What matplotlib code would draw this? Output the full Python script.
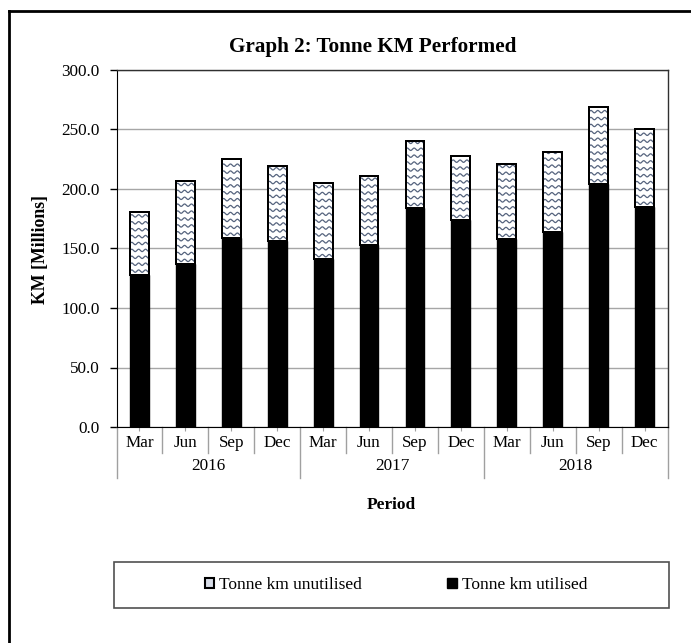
import numpy as np
import matplotlib
matplotlib.use("Agg")
import matplotlib.pyplot as plt
from matplotlib.patches import Rectangle
from matplotlib.lines import Line2D
import matplotlib.transforms as mtransforms

# ---- data ----
years = ["2016", "2017", "2018"]
months = ["Mar", "Jun", "Sep", "Dec"]
utilised = [128, 137, 159, 156, 141, 153, 184, 174, 158, 164, 204, 185]
totals = [181, 207, 225, 219, 205, 211, 240, 228, 221, 231, 269, 250]
unutilised = [t - u for t, u in zip(totals, utilised)]
yticks = [0, 50, 100, 150, 200, 250, 300]

plt.rcParams['font.family'] = ['Liberation Serif', 'DejaVu Serif']

W, H = 691, 643
fig = plt.figure(figsize=(W / 100, H / 100), dpi=100)
ax = fig.add_axes([116.5 / W, 1 - 427 / H, (667.5 - 116.5) / W, (427 - 70) / H])

n = len(utilised)
x = np.arange(n)
bw = 0.41
b1 = ax.bar(x, utilised, width=bw, color='black', edgecolor='black', linewidth=1, zorder=3)
b2 = ax.bar(x, unutilised, width=bw, bottom=utilised, color='white', edgecolor='black',
            linewidth=1.4, zorder=3)

# wavy hatch, clipped to each unutilised bar
wave_col = '#56647e'
for rect in b2:
    x0, y0 = rect.get_x(), rect.get_y()
    w, h = rect.get_width(), rect.get_height()
    xs = np.linspace(x0, x0 + w, 200)
    period = 0.15
    for yy in np.arange(y0 + 3.0, y0 + h, 5.8):
        ys = yy + 1.0 * np.sin(2 * np.pi * (xs - x0) / period)
        ln, = ax.plot(xs, ys, color=wave_col, lw=0.9, zorder=4)
        ln.set_clip_path(rect)
for rect in b2:
    ax.add_patch(Rectangle((rect.get_x(), rect.get_y()), rect.get_width(), rect.get_height(),
                           fill=False, edgecolor='black', linewidth=1.4, zorder=5))

fs = 12.3
ax.set_xlim(-0.5, n - 0.5)
ax.set_ylim(0, 300)
ax.set_yticks(yticks)
ax.set_yticklabels([f"{v:.1f}" for v in yticks], fontsize=fs)
ax.tick_params(axis='y', direction='out', length=5, width=1, pad=7, colors='black')
ax.yaxis.grid(True, color='#a6a6a6', lw=1, zorder=0)
ax.set_axisbelow(True)

ax.set_xticks(x)
ax.set_xticklabels(months * len(years), fontsize=fs)
ax.tick_params(axis='x', direction='out', length=3, width=0.8, pad=3)
for lbl in ax.get_xticklabels():
    lbl.set_color('black')
ax.xaxis.set_tick_params(color='#a0a0a0')

for s in ['top', 'right']:
    ax.spines[s].set_color('#303030')
    ax.spines[s].set_linewidth(1)
ax.spines['left'].set_color('black')
ax.spines['bottom'].set_color('black')

# category separators
trans = mtransforms.blended_transform_factory(ax.transData, ax.transAxes)
axh = 427 - 70
for i in range(n + 1):
    xb = i - 0.5
    if i % 4 == 0:
        yb = -(478 - 427) / axh
    else:
        yb = -(453 - 427) / axh
    ax.plot([xb, xb], [0, yb], transform=trans, color='#a0a0a0', lw=1, clip_on=False)
for k, yr in enumerate(years):
    ax.text(4 * k + 1.5, -(466 - 427) / axh, yr, transform=trans, ha='center', va='center',
            fontsize=fs)

fig.text(373 / W, 1 - 47 / H, "Graph 2: Tonne KM Performed", ha='center',
         va='center', fontsize=15.2, fontweight='bold')
fig.text(40 / W, 1 - 249 / H, "KM [Millions]", ha='center', va='center', rotation=90,
         fontsize=12.8, fontweight='bold')
fig.text(391 / W, 1 - 505 / H, "Period", ha='center', va='center', fontsize=12.5,
         fontweight='bold')

# legend frame and legend
fig.patches.append(Rectangle((114 / W, 1 - 608 / H), (669 - 114) / W, (608 - 562) / H,
                             transform=fig.transFigure, fill=False, edgecolor='#505050',
                             lw=1.2))
h1 = Rectangle((0, 0), 1, 1, facecolor='#d8dde8', edgecolor='black', lw=1.5)
h2 = Rectangle((0, 0), 1, 1, facecolor='black', edgecolor='black', lw=1)
leg = fig.legend([h1, h2], ["Tonne km unutilised", "Tonne km utilised"], ncol=2,
                 loc='center', bbox_to_anchor=(396 / W, 1 - 585 / H), frameon=False,
                 fontsize=12.5, handlelength=0.55, handleheight=0.55, handletextpad=0.3,
                 columnspacing=4.9)

# outer border (left and top only visible)
fig.add_artist(Line2D([9 / W, 9 / W], [0, 1 - 11 / H], transform=fig.transFigure,
                      color='black', lw=2))
fig.add_artist(Line2D([9 / W, 1], [1 - 11 / H, 1 - 11 / H], transform=fig.transFigure,
                      color='black', lw=2))

fig.savefig("out.png", dpi=100)
